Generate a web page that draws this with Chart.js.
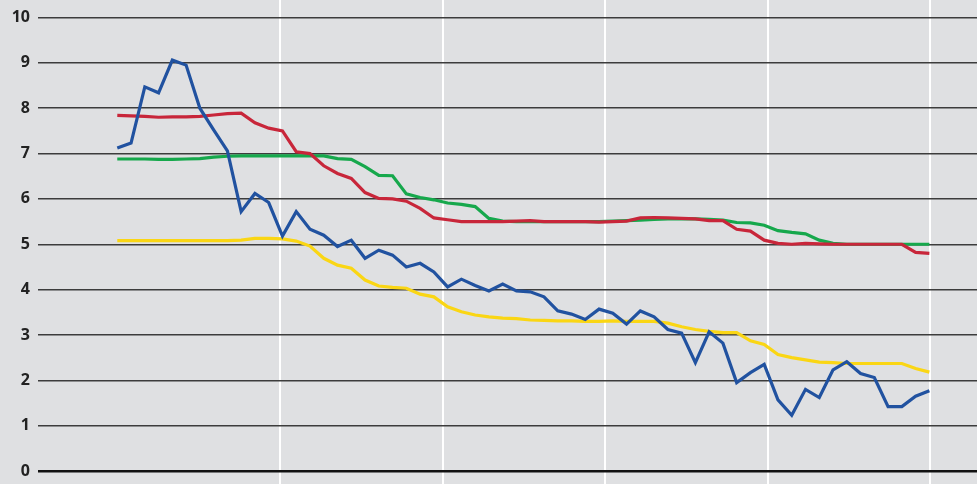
<!DOCTYPE html>
<html>
<head>
<meta charset="utf-8">
<script src="https://cdn.jsdelivr.net/npm/chart.js@4"></script>
<style>
  body { margin: 0; background: #dfe0e2; }
  canvas { display: block; }
</style>
</head>
<body>
<canvas id="chart" width="977" height="484"></canvas>
<script>
// monthly readings, 60 points
const blue = [7.12, 7.23, 8.47, 8.34, 9.06, 8.95, 8.00, 7.52, 7.06, 5.72,
  6.12, 5.92, 5.18, 5.72, 5.33, 5.20, 4.95, 5.09, 4.69, 4.87,
  4.76, 4.50, 4.58, 4.39, 4.06, 4.23, 4.09, 3.97, 4.12, 3.97,
  3.95, 3.84, 3.53, 3.46, 3.34, 3.57, 3.48, 3.24, 3.53, 3.40,
  3.12, 3.04, 2.39, 3.07, 2.82, 1.95, 2.17, 2.35, 1.57, 1.23,
  1.80, 1.62, 2.23, 2.41, 2.15, 2.06, 1.42, 1.42, 1.65, 1.77];

const red = [7.84, 7.83, 7.82, 7.80, 7.81, 7.81, 7.82, 7.85, 7.88, 7.89,
  7.68, 7.56, 7.50, 7.04, 7.00, 6.73, 6.56, 6.45, 6.14, 6.01,
  6.00, 5.95, 5.79, 5.58, 5.54, 5.50, 5.50, 5.50, 5.50, 5.51,
  5.52, 5.50, 5.50, 5.50, 5.50, 5.49, 5.50, 5.51, 5.58, 5.59,
  5.58, 5.57, 5.56, 5.52, 5.52, 5.33, 5.29, 5.09, 5.02, 5.00,
  5.02, 5.01, 5.00, 5.00, 5.00, 5.00, 5.00, 5.00, 4.82, 4.80];

const green = [6.88, 6.88, 6.88, 6.87, 6.87, 6.88, 6.89, 6.92, 6.94, 6.95,
  6.95, 6.95, 6.95, 6.95, 6.95, 6.95, 6.89, 6.87, 6.71, 6.52,
  6.51, 6.11, 6.03, 5.98, 5.91, 5.88, 5.83, 5.57, 5.51, 5.50,
  5.50, 5.50, 5.50, 5.50, 5.50, 5.50, 5.51, 5.52, 5.53, 5.55,
  5.56, 5.56, 5.56, 5.55, 5.53, 5.48, 5.47, 5.42, 5.30, 5.26,
  5.23, 5.09, 5.02, 5.00, 5.00, 5.00, 5.00, 5.00, 5.00, 5.00];

const yellow = [5.08, 5.08, 5.08, 5.08, 5.08, 5.08, 5.08, 5.08, 5.08, 5.09,
  5.13, 5.13, 5.12, 5.07, 4.96, 4.69, 4.54, 4.47, 4.21, 4.08,
  4.05, 4.03, 3.90, 3.84, 3.62, 3.51, 3.44, 3.40, 3.37, 3.36,
  3.33, 3.32, 3.31, 3.31, 3.30, 3.30, 3.31, 3.30, 3.30, 3.30,
  3.26, 3.18, 3.12, 3.08, 3.05, 3.05, 2.87, 2.79, 2.57, 2.50,
  2.45, 2.40, 2.39, 2.37, 2.37, 2.37, 2.37, 2.37, 2.26, 2.18];

const yTicks = [0, 1, 2, 3, 4, 5, 6, 7, 8, 9, 10];
const yearMarks = [11.82, 23.64, 35.44, 47.27, 59.05];

const toPoints = (arr) => arr.map((v, i) => ({ x: i, y: v }));

// white year lines run over the full canvas height
const yearLines = {
  id: 'yearLines',
  beforeDraw(chart) {
    const ctx = chart.ctx;
    const xs = chart.scales.x;
    ctx.save();
    ctx.strokeStyle = '#ffffff';
    ctx.lineWidth = 2;
    yearMarks.forEach((m) => {
      const px = Math.round(xs.getPixelForValue(m));
      ctx.beginPath();
      ctx.moveTo(px, 0);
      ctx.lineTo(px, chart.height);
      ctx.stroke();
    });
    ctx.restore();
  }
};

const line = (data, color) => ({
  data: toPoints(data),
  borderColor: color,
  borderWidth: 3.2,
  pointRadius: 0,
  tension: 0,
  fill: false
});

new Chart(document.getElementById('chart'), {
  type: 'line',
  data: {
    datasets: [
      line(blue, '#2152a0'),
      line(red, '#c8263a'),
      line(green, '#16a84c'),
      line(yellow, '#fad614')
    ]
  },
  options: {
    responsive: false,
    animation: false,
    layout: { padding: { top: 17.5, bottom: 13, left: 0, right: 0 } },
    plugins: { legend: { display: false }, tooltip: { enabled: false } },
    scales: {
      x: {
        type: 'linear',
        min: -5.76,
        max: 62.46,
        display: false
      },
      y: {
        min: 0,
        max: 10,
        afterBuildTicks: (axis) => { axis.ticks = yTicks.map((v) => ({ value: v })); },
        afterFit: (axis) => {
          axis.width = 38;
          axis.paddingTop = 0;
          axis.paddingBottom = 0;
        },
        border: { display: false },
        grid: {
          drawTicks: false,
          color: (c) => (c.tick && c.tick.value === 0 ? '#111111' : '#3c3c3c'),
          lineWidth: (c) => (c.tick && c.tick.value === 0 ? 2.5 : 1.5)
        },
        ticks: {
          padding: 8,
          color: '#222222',
          font: { family: 'Open Sans', size: 16, weight: 'bold' }
        }
      }
    }
  },
  plugins: [yearLines]
});
</script>
</body>
</html>
